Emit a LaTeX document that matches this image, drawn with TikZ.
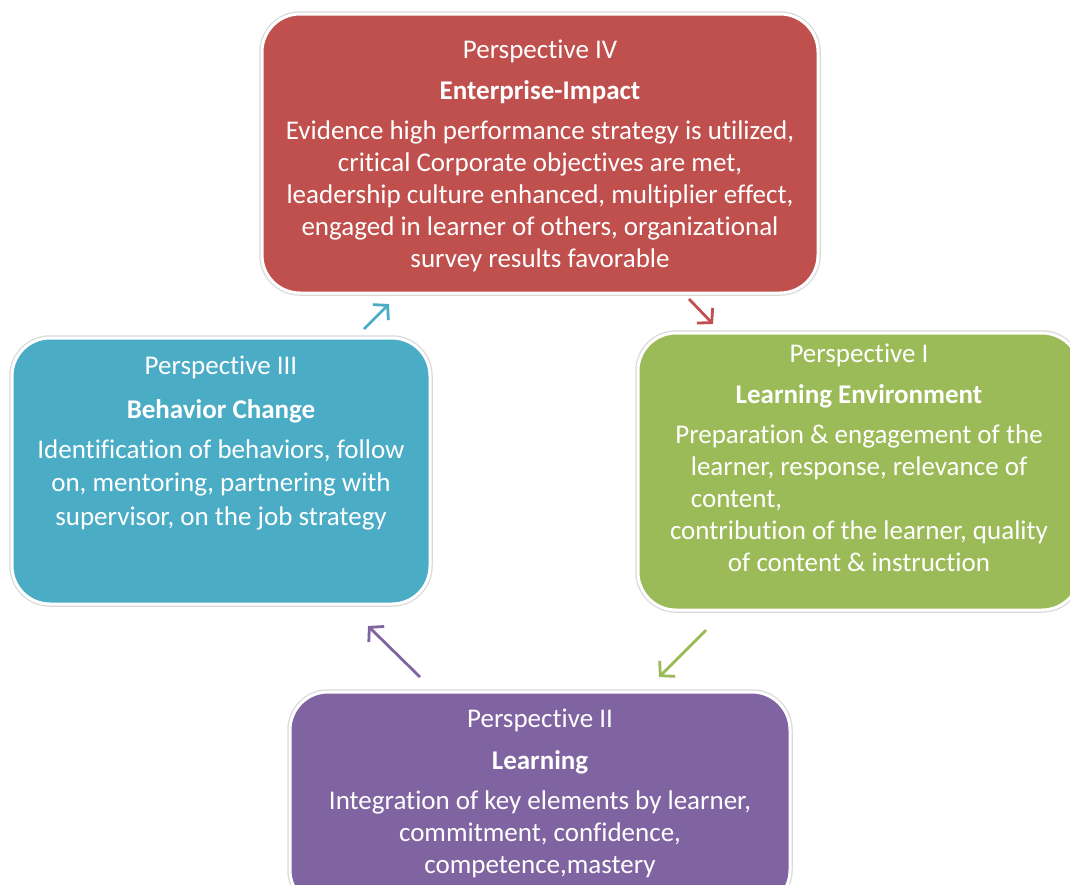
\documentclass[tikz,border=0pt]{standalone}
\usepackage{fontspec}
\setmainfont{Carlito}[Ligatures=NoCommon]
\usepackage{calc}
\usepackage{tikz}
\usepackage{xcolor}
\usetikzlibrary{arrows.meta}

\definecolor{redIV}{HTML}{C0504D}
\definecolor{blueIII}{HTML}{4BACC6}
\definecolor{greenI}{HTML}{9BBB59}
\definecolor{purpleII}{HTML}{8064A2}

\begin{document}
\begin{tikzpicture}%
  [x=1pt,y=-1pt,
   persp box/.style={rectangle,rounded corners=38pt,draw=white,line width=3pt,
     preaction={draw=black!15,line width=5.5pt},inner sep=0pt},
   persp text/.style={anchor=north,align=center,text=white,inner sep=0pt,
     font=\fontsize{27}{32}\selectfont},
   cycle arrow/.style={line width=2.8pt,-{Straight Barb[length=10pt,width=22pt]}}]
  \useasboundingbox (0,0) rectangle (1070,884);
  % the four perspectives
  \node(boxIV)[persp box,fill=redIV,minimum width=556pt,minimum height=279pt] at (540,153.5) {};
  \node(boxIII)[persp box,fill=blueIII,minimum width=418pt,minimum height=266pt] at (221,471) {};
  \node(boxI)[persp box,fill=greenI,minimum width=442pt,minimum height=277pt] at (859,471.5) {};
  \node(boxII)[persp box,fill=purpleII,minimum width=500pt,minimum height=216pt] at (540,800) {};
  % texts
  \node(textIV)[persp text] at ([yshift=-27pt]boxIV.north) {Perspective IV\\[9pt]
    \textbf{Enterprise-Impact}\\[8pt]
    Evidence high performance strategy is utilized,\\
    critical Corporate objectives are met,\\
    leadership culture enhanced, multiplier effect,\\
    engaged in learner of others, organizational\\
    survey results favorable};
  \node(textIII)[persp text,font=\fontsize{27}{33.5}\selectfont] at ([yshift=-19pt]boxIII.north) {Perspective III\\[11pt]
    \textbf{Behavior Change}\\[6pt]
    Identification of behaviors, follow\\
    on, mentoring, partnering with\\
    supervisor, on the job strategy};
  \node(textI)[persp text] at ([yshift=-12pt]boxI.north) {Perspective I\\[9pt]
    \textbf{Learning Environment}\\[8pt]
    Preparation \& engagement of the\\
    learner, response, relevance of\\
    \makebox[\widthof{learner, response, relevance of}][l]{content,}\\
    contribution of the learner, quality\\
    of content \& instruction};
  \node(textII)[persp text] at ([yshift=-18pt]boxII.north) {Perspective II\\[10pt]
    \textbf{Learning}\\[8pt]
    Integration of key elements by learner,\\
    commitment, confidence,\\
    competence,mastery};
  % arrows between perspectives
  \coordinate(fromIII) at (364,329);
  \coordinate(toIV) at (389,304);
  \coordinate(fromIV) at (689,299);
  \coordinate(toI) at (713,324);
  \coordinate(fromI) at (706,630);
  \coordinate(toII) at (659,677);
  \coordinate(fromII) at (420,677);
  \coordinate(toIII) at (368,626);
  \draw[cycle arrow,blueIII] (fromIII) -- (toIV);
  \draw[cycle arrow,redIV] (fromIV) -- (toI);
  \draw[cycle arrow,greenI] (fromI) -- (toII);
  \draw[cycle arrow,purpleII] (fromII) -- (toIII);
\end{tikzpicture}
\end{document}
